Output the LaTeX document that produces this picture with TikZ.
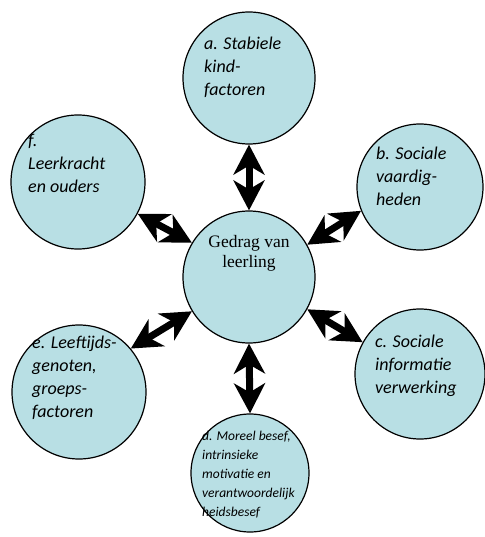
\documentclass[tikz,border=0pt]{standalone}
\usepackage{fontspec}
\setmainfont{Carlito}
\newfontfamily\calit{Carlito Italic}
\newfontfamily\serifc{Liberation Serif}
\usetikzlibrary{arrows.meta}
\definecolor{circfill}{RGB}{184,223,228}
\tikzset{
  circ/.style={circle,draw=black,line width=1.2pt,fill=circfill,inner sep=0pt,minimum size=#1},
  lbl/.style={anchor=north west,inner sep=0pt,align=left,font=\calit\fontsize{18}{23}\selectfont},
  dbl/.style={line width=7pt,{Stealth[length=30pt,width=31pt,inset=9pt]}-{Stealth[length=30pt,width=31pt,inset=9pt]}}
}
\begin{document}
\begin{tikzpicture}[x=1pt,y=-1pt]
\useasboundingbox (0,0) rectangle (484,537);
\node[circ=132pt] (a) at (249,78) {};
\node[circ=126pt] (b) at (420,187) {};
\node[circ=130pt] (c) at (420,374) {};
\node[circ=118pt] (d) at (250,473) {};
\node[circ=134pt] (e) at (79,392) {};
\node[circ=134pt] (f) at (78,182) {};
\node[circ=132pt] (m) at (249,277) {};
\node[lbl] (ta) at (204,37) {a. Stabiele\\kind-\\factoren};
\node[lbl] (tb) at (376,147) {b. Sociale\\vaardig-\\heden};
\node[lbl] (tc) at (375,335) {c. Sociale\\informatie\\verwerking};
\node[lbl,font=\calit\fontsize{13.5}{19}\selectfont] (td) at (202,431) {d. Moreel besef,\\intrinsieke\\motivatie en\\verantwoordelijk\\heidsbesef};
\node[lbl] (te) at (32,336) {e. Leeftijds-\\genoten,\\groeps-\\factoren};
\node[lbl] (tf) at (28,134) {f.\\Leerkracht\\en ouders};
\node[anchor=north,inner sep=0pt,align=center,font=\serifc\fontsize{17.5}{20}\selectfont] (tm) at (249,235) {Gedrag van\\leerling};
\draw[dbl] (a.south) -- (m.north);
\draw[dbl] (m.south) -- (d.north);
\draw[dbl] (f.-28) -- (m.149);
\draw[dbl] (b.202) -- (m.29);
\draw[dbl] (e.40) -- (m.211);
\draw[dbl] (c.151) -- (m.-29);
\end{tikzpicture}
\end{document}
